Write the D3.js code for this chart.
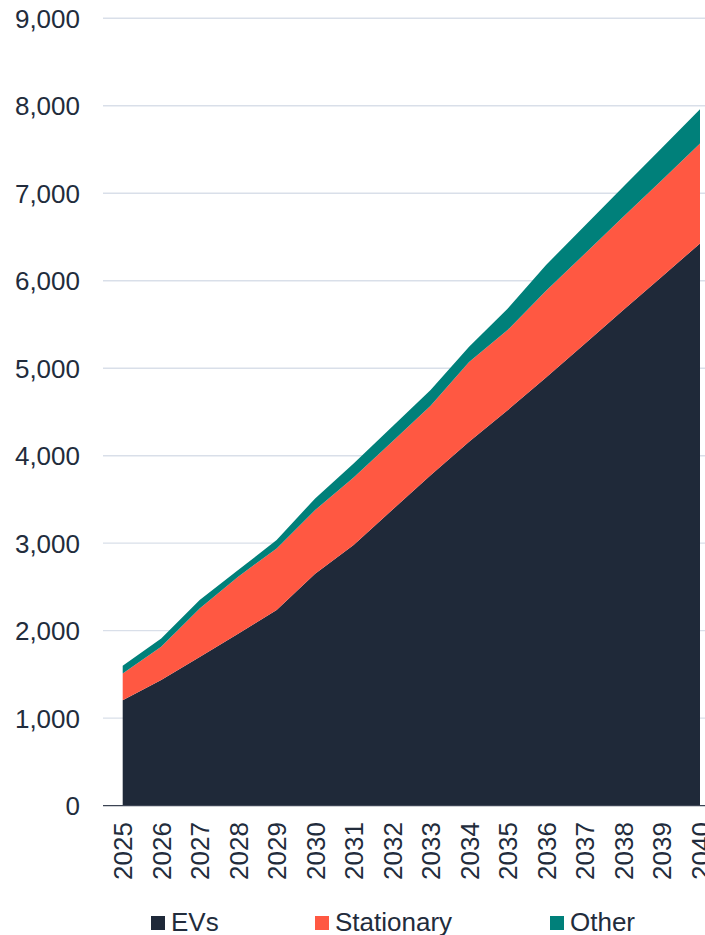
<!DOCTYPE html>
<html>
<head>
<meta charset="utf-8">
<script src="https://cdn.jsdelivr.net/npm/d3@7"></script>
<style>
  html, body { margin: 0; padding: 0; background: #ffffff; }
  svg { display: block; font-family: "Liberation Sans", Arial, sans-serif; }
</style>
</head>
<body>
<svg id="chart" width="705" height="935"></svg>
<script>
// Battery demand by segment, stacked
const years = [2025, 2026, 2027, 2028, 2029, 2030, 2031, 2032, 2033, 2034, 2035, 2036, 2037, 2038, 2039, 2040];
const evs =        [1205, 1435, 1700, 1965, 2235, 2650, 2980, 3380, 3775, 4160, 4520, 4895, 5276, 5664, 6042, 6427];
const stationary = [ 306,  381,  554,  651,  705,  730,  770,  780,  795,  910,  916,  991, 1029, 1064, 1105, 1143];
const other =      [  87,   95,   95,   76,   95,  132,  160,  170,  180,  175,  244,  294,  320,  343,  367,  390];
const yTicks = [0, 1000, 2000, 3000, 4000, 5000, 6000, 7000, 8000, 9000];
const seriesNames = ["EVs", "Stationary", "Other"];
const seriesColors = ["#1f2939", "#ff5842", "#00807a"];

const svg = d3.select("#chart");
const textColor = "#222c3c";
const fontSize = 26;

const x = d3.scaleLinear().domain([2025, 2040]).range([122.7, 700]);
const y = d3.scaleLinear().domain([0, 9000]).range([805.6, 18.3]);

const rows = years.map((yr, i) => ({ year: yr, EVs: evs[i], Stationary: stationary[i], Other: other[i] }));
const stacked = d3.stack().keys(seriesNames)(rows);

// horizontal gridlines
svg.append("g")
  .selectAll("line")
  .data(yTicks.filter(t => t > 0))
  .join("line")
  .attr("x1", 103).attr("x2", 705)
  .attr("y1", d => y(d)).attr("y2", d => y(d))
  .attr("stroke", "#d9dfe9")
  .attr("stroke-width", 1.4);

// stacked areas
const area = d3.area()
  .x(d => x(d.data.year))
  .y0(d => y(d[0]))
  .y1(d => y(d[1]));

svg.append("g")
  .selectAll("path")
  .data(stacked)
  .join("path")
  .attr("d", area)
  .attr("fill", (d, i) => seriesColors[i]);

// baseline
svg.append("line")
  .attr("x1", 103).attr("x2", 705)
  .attr("y1", y(0)).attr("y2", y(0))
  .attr("stroke", "#3c4454")
  .attr("stroke-width", 1.4);

// y axis labels
const yAxis = d3.axisLeft(y).tickValues(yTicks).tickFormat(d3.format(",")).tickSize(0).tickPadding(0);
const gy = svg.append("g").attr("transform", "translate(80,0)").call(yAxis);
gy.select(".domain").remove();
gy.selectAll("text")
  .attr("fill", textColor)
  .attr("font-size", fontSize)
  .attr("font-family", "Liberation Sans, Arial, sans-serif")
  .attr("dy", "0.35em");

// x axis labels, rotated
const xAxis = d3.axisBottom(x).tickValues(years).tickFormat(d3.format("d")).tickSize(0).tickPadding(0);
const gx = svg.append("g").attr("transform", `translate(0,${y(0)})`).call(xAxis);
gx.select(".domain").remove();
gx.selectAll("text")
  .attr("fill", textColor)
  .attr("font-size", fontSize)
  .attr("font-family", "Liberation Sans, Arial, sans-serif")
  .attr("text-anchor", "end")
  .attr("transform", "translate(0,16.5) rotate(-90)")
  .attr("x", 0).attr("y", 0)
  .attr("dy", "0.35em");

// legend
const legendX = [151, 315, 550];
const legend = svg.append("g");
seriesNames.forEach((name, i) => {
  legend.append("rect")
    .attr("x", legendX[i]).attr("y", 916)
    .attr("width", 14).attr("height", 14)
    .attr("fill", seriesColors[i]);
  legend.append("text")
    .attr("x", legendX[i] + 20).attr("y", 930.5)
    .attr("fill", textColor)
    .attr("font-size", fontSize)
    .text(name);
});
</script>
</body>
</html>
